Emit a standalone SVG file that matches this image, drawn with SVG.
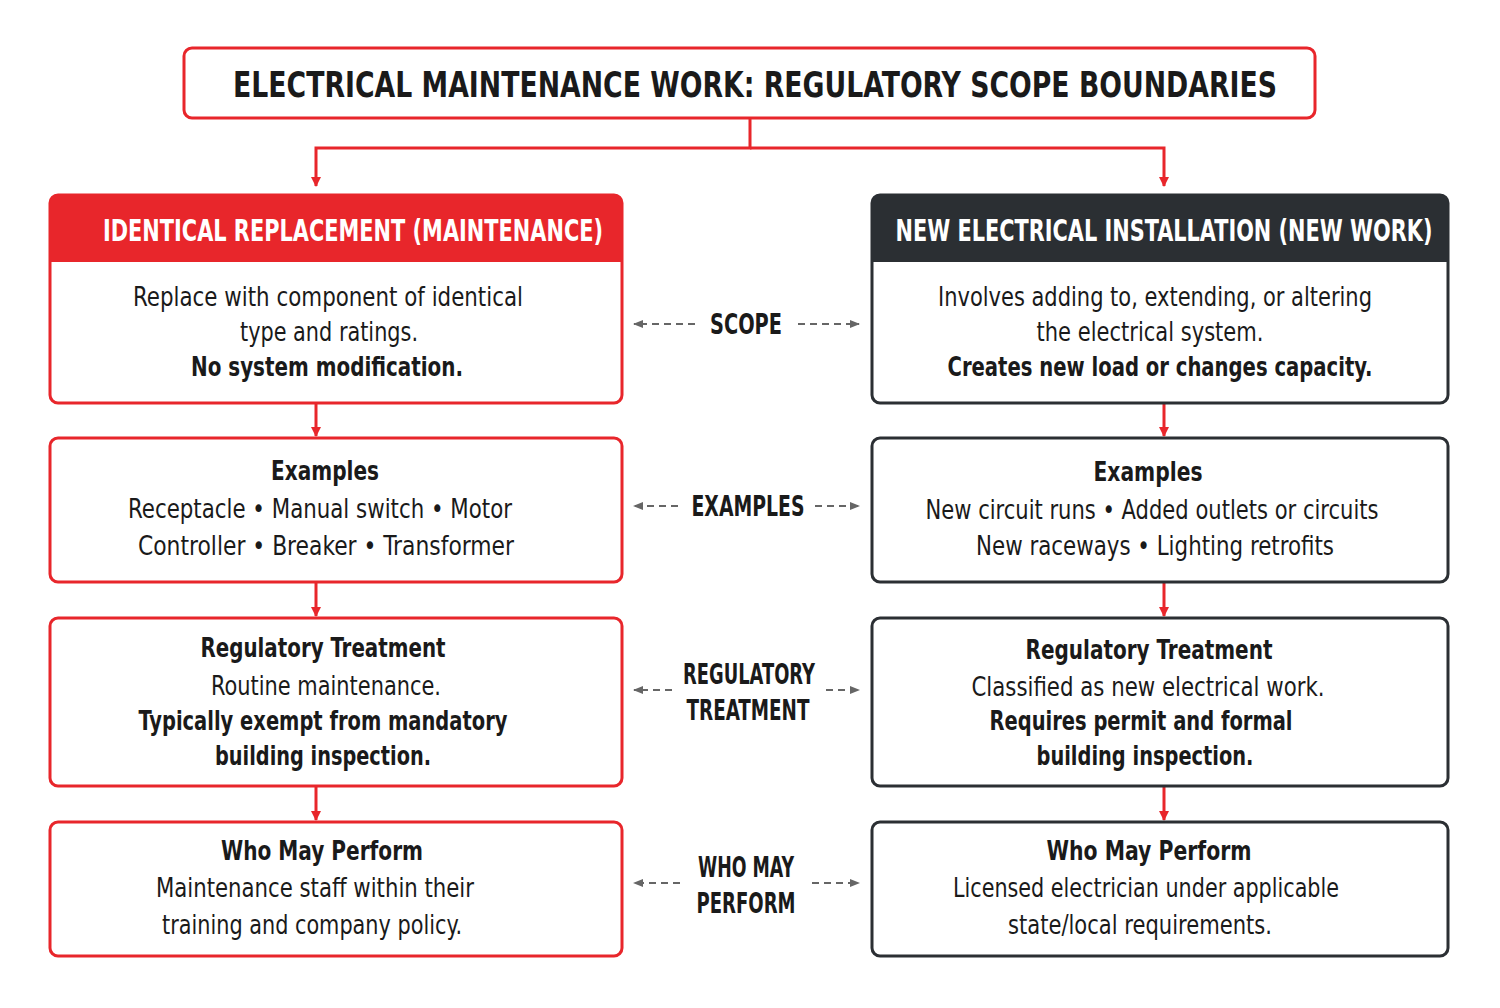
<svg xmlns="http://www.w3.org/2000/svg" width="1500" height="1008" viewBox="0 0 1500 1008">
<defs>
<marker id="ra" markerWidth="10" markerHeight="10" refX="9" refY="5" orient="auto" markerUnits="userSpaceOnUse"><path d="M0,0 L10,5 L0,10 Z" fill="#e8262b"/></marker>
<marker id="ga" markerWidth="10" markerHeight="10" refX="9" refY="5" orient="auto" markerUnits="userSpaceOnUse"><path d="M0,1 L10,5 L0,9 Z" fill="#666"/></marker>
<style>
text{font-family:"DejaVu Sans Condensed","Liberation Sans Narrow","Roboto",sans-serif;fill:#1a1a1a;text-anchor:middle}
.t{font-size:26px}
.b{font-size:26px;font-weight:bold}
.h{font-size:30px;font-weight:bold;fill:#fff}
.m{font-size:28px;font-weight:bold}
.rb{fill:#fff;stroke:#e8262b;stroke-width:3}
.db{fill:#fff;stroke:#2b2f33;stroke-width:3}
.rl{stroke:#e8262b;stroke-width:3;fill:none}
.gl{stroke:#666;stroke-width:2;stroke-dasharray:7,5;fill:none}
</style>
</defs>
<rect width="1500" height="1008" fill="#fff"/>
<g id="title"><rect x="184" y="48" width="1131" height="70" rx="8" class="rb"/><text x="755" y="97" style="font-size:36px;font-weight:bold" textLength="1044" lengthAdjust="spacingAndGlyphs">ELECTRICAL MAINTENANCE WORK: REGULATORY SCOPE BOUNDARIES</text></g>
<g id="connectors">
<path class="rl" d="M750,118 V148 H316 V186" marker-end="url(#ra)"/>
<path class="rl" d="M750,148 H1164 V186" marker-end="url(#ra)"/>
<path class="rl" d="M316,403 V436" marker-end="url(#ra)"/>
<path class="rl" d="M316,582 V616" marker-end="url(#ra)"/>
<path class="rl" d="M316,786 V820" marker-end="url(#ra)"/>
<path class="rl" d="M1164,403 V436" marker-end="url(#ra)"/>
<path class="rl" d="M1164,582 V616" marker-end="url(#ra)"/>
<path class="rl" d="M1164,786 V820" marker-end="url(#ra)"/>
<path class="gl" d="M695,324 H634" marker-end="url(#ga)"/><path class="gl" d="M798,324 H859" marker-end="url(#ga)"/>
<path class="gl" d="M678,506 H634" marker-end="url(#ga)"/><path class="gl" d="M815,506 H859" marker-end="url(#ga)"/>
<path class="gl" d="M672,690 H634" marker-end="url(#ga)"/><path class="gl" d="M826,690 H859" marker-end="url(#ga)"/>
<path class="gl" d="M680,883 H634" marker-end="url(#ga)"/><path class="gl" d="M812,883 H859" marker-end="url(#ga)"/>
<text class="m" x="746" y="334" textLength="72" lengthAdjust="spacingAndGlyphs">SCOPE</text>
<text class="m" x="748" y="516" textLength="113" lengthAdjust="spacingAndGlyphs">EXAMPLES</text>
<text class="m" x="749" y="684" textLength="132" lengthAdjust="spacingAndGlyphs">REGULATORY</text><text class="m" x="748" y="720" textLength="123" lengthAdjust="spacingAndGlyphs">TREATMENT</text>
<text class="m" x="746" y="877" textLength="96" lengthAdjust="spacingAndGlyphs">WHO MAY</text><text class="m" x="746" y="913" textLength="99" lengthAdjust="spacingAndGlyphs">PERFORM</text>
</g>
<g id="left-scope"><rect x="50" y="195" width="572" height="208" rx="8" class="rb"/><path d="M50,262 V203 Q50,195 58,195 H614 Q622,195 622,203 V262 Z" fill="#e8262b"/>
<text class="h" x="353" y="241" textLength="500" lengthAdjust="spacingAndGlyphs">IDENTICAL REPLACEMENT (MAINTENANCE)</text>
<text class="t" x="328" y="306" textLength="390" lengthAdjust="spacingAndGlyphs">Replace with component of identical</text><text class="t" x="329" y="341" textLength="178" lengthAdjust="spacingAndGlyphs">type and ratings.</text><text class="b" x="327" y="376" textLength="272" lengthAdjust="spacingAndGlyphs">No system modification.</text></g>
<g id="right-scope"><rect x="872" y="195" width="576" height="208" rx="8" class="db"/><path d="M872,262 V203 Q872,195 880,195 H1440 Q1448,195 1448,203 V262 Z" fill="#2b2f33"/>
<text class="h" x="1164" y="241" textLength="537" lengthAdjust="spacingAndGlyphs">NEW ELECTRICAL INSTALLATION (NEW WORK)</text>
<text class="t" x="1155" y="306" textLength="434" lengthAdjust="spacingAndGlyphs">Involves adding to, extending, or altering</text><text class="t" x="1150" y="341" textLength="227" lengthAdjust="spacingAndGlyphs">the electrical system.</text><text class="b" x="1160" y="376" textLength="425" lengthAdjust="spacingAndGlyphs">Creates new load or changes capacity.</text></g>
<g id="left-examples"><rect x="50" y="438" width="572" height="144" rx="8" class="rb"/>
<text class="b" x="325" y="480" textLength="108" lengthAdjust="spacingAndGlyphs">Examples</text><text class="t" x="320" y="518" textLength="384" lengthAdjust="spacingAndGlyphs">Receptacle  •  Manual switch  •  Motor</text><text class="t" x="326" y="555" textLength="376" lengthAdjust="spacingAndGlyphs">Controller  •  Breaker  •  Transformer</text></g>
<g id="right-examples"><rect x="872" y="438" width="576" height="144" rx="8" class="db"/>
<text class="b" x="1148" y="481" textLength="109" lengthAdjust="spacingAndGlyphs">Examples</text><text class="t" x="1152" y="519" textLength="453" lengthAdjust="spacingAndGlyphs">New circuit runs  •  Added outlets or circuits</text><text class="t" x="1155" y="555" textLength="358" lengthAdjust="spacingAndGlyphs">New raceways  •  Lighting retrofits</text></g>
<g id="left-reg"><rect x="50" y="618" width="572" height="168" rx="8" class="rb"/>
<text class="b" x="323" y="657" textLength="245" lengthAdjust="spacingAndGlyphs">Regulatory Treatment</text><text class="t" x="326" y="695" textLength="230" lengthAdjust="spacingAndGlyphs">Routine maintenance.</text><text class="b" x="323" y="730" textLength="369" lengthAdjust="spacingAndGlyphs">Typically exempt from mandatory</text><text class="b" x="323" y="765" textLength="216" lengthAdjust="spacingAndGlyphs">building inspection.</text></g>
<g id="right-reg"><rect x="872" y="618" width="576" height="168" rx="8" class="db"/>
<text class="b" x="1149" y="659" textLength="247" lengthAdjust="spacingAndGlyphs">Regulatory Treatment</text><text class="t" x="1148" y="696" textLength="353" lengthAdjust="spacingAndGlyphs">Classified as new electrical work.</text><text class="b" x="1141" y="730" textLength="303" lengthAdjust="spacingAndGlyphs">Requires permit and formal</text><text class="b" x="1145" y="765" textLength="217" lengthAdjust="spacingAndGlyphs">building inspection.</text></g>
<g id="left-who"><rect x="50" y="822" width="572" height="134" rx="8" class="rb"/>
<text class="b" x="322" y="860" textLength="202" lengthAdjust="spacingAndGlyphs">Who May Perform</text><text class="t" x="315" y="897" textLength="318" lengthAdjust="spacingAndGlyphs">Maintenance staff within their</text><text class="t" x="312" y="934" textLength="300" lengthAdjust="spacingAndGlyphs">training and company policy.</text></g>
<g id="right-who"><rect x="872" y="822" width="576" height="134" rx="8" class="db"/>
<text class="b" x="1149" y="860" textLength="205" lengthAdjust="spacingAndGlyphs">Who May Perform</text><text class="t" x="1146" y="897" textLength="386" lengthAdjust="spacingAndGlyphs">Licensed electrician under applicable</text><text class="t" x="1140" y="934" textLength="264" lengthAdjust="spacingAndGlyphs">state/local requirements.</text></g>
</svg>
